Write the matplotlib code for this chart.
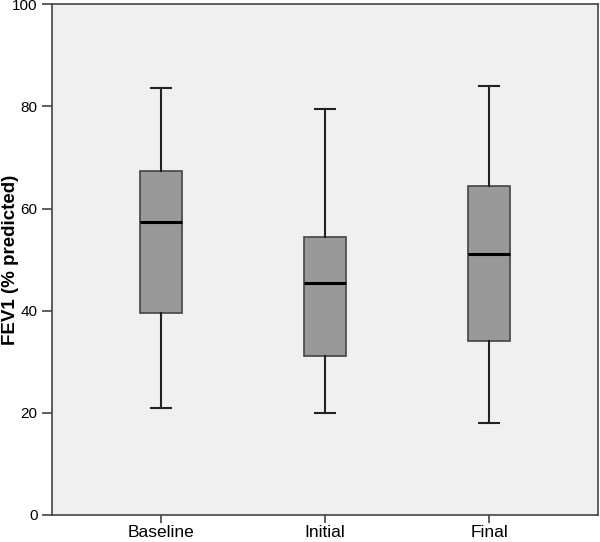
import matplotlib
matplotlib.use('Agg')
import matplotlib.pyplot as plt

# Datos
grupos = ['Baseline', 'Initial', 'Final']
bigote_inf = [21.0, 20.0, 18.0]
q1 = [39.6, 31.1, 34.1]
mediana = [57.4, 45.5, 51.1]
q3 = [67.4, 54.5, 64.5]
bigote_sup = [83.6, 79.5, 84.1]

plt.rcParams['font.family'] = ['Liberation Sans', 'DejaVu Sans']

stats = []
for i in range(len(grupos)):
    stats.append({'label': grupos[i], 'whislo': bigote_inf[i], 'q1': q1[i],
                  'med': mediana[i], 'q3': q3[i], 'whishi': bigote_sup[i],
                  'fliers': []})

fig = plt.figure(figsize=(6, 5.42), dpi=100)
ax = fig.add_axes([0.087, 0.05, 0.910, 0.942])
ax.set_facecolor('#f0f0f0')

ax.bxp(stats, positions=range(len(grupos)), widths=0.256, patch_artist=True,
       showfliers=False,
       boxprops=dict(facecolor='#999999', edgecolor='#444444', linewidth=1.2),
       medianprops=dict(color='black', linewidth=2.2),
       whiskerprops=dict(color='#222222', linewidth=1.5),
       capprops=dict(color='#222222', linewidth=1.5),
       capwidths=0.12)

ax.set_xlim(-0.665, 2.665)
ax.set_ylim(0, 100)
ax.set_yticks([0, 20, 40, 60, 80, 100])
ax.set_xticks(range(len(grupos)))
ax.set_xticklabels(grupos, fontsize=12.5)
ax.tick_params(axis='y', labelsize=11, length=7, color='#444444', width=1.2)
ax.tick_params(axis='x', length=6, color='#444444', width=1.2, pad=1)
for s in ax.spines.values():
    s.set_color('#444444')
    s.set_linewidth(1.2)

ax.set_ylabel('FEV1 (% predicted)', fontsize=13.5, fontweight='bold')
ax.yaxis.set_label_coords(-0.06, 0.5)

plt.savefig('out.png', dpi=100)
